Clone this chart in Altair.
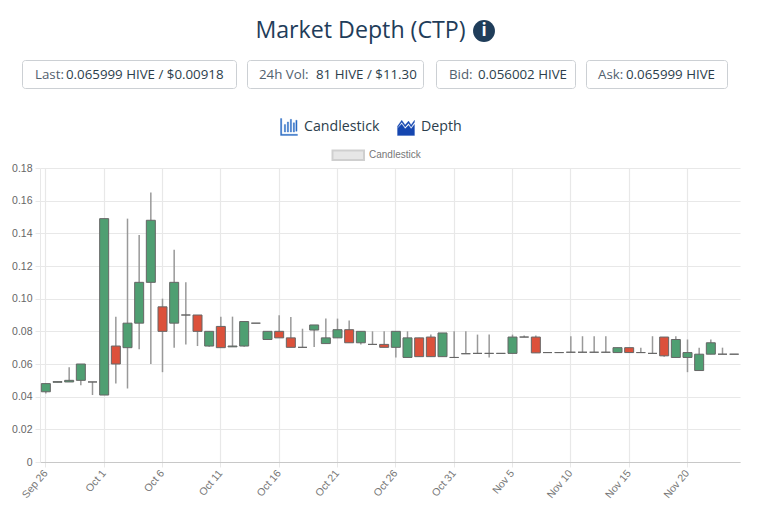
import altair as alt
import pandas as pd

dates = ["Sep 26","Sep 27","Sep 28","Sep 29","Sep 30","Oct 1","Oct 2","Oct 3","Oct 4","Oct 5",
         "Oct 6","Oct 7","Oct 8","Oct 9","Oct 10","Oct 11","Oct 12","Oct 13","Oct 14","Oct 15",
         "Oct 16","Oct 17","Oct 18","Oct 19","Oct 20","Oct 21","Oct 22","Oct 23","Oct 24","Oct 25",
         "Oct 26","Oct 27","Oct 28","Oct 29","Oct 30","Oct 31","Nov 1","Nov 2","Nov 3","Nov 4",
         "Nov 5","Nov 6","Nov 7","Nov 8","Nov 9","Nov 10","Nov 11","Nov 12","Nov 13","Nov 14",
         "Nov 15","Nov 16","Nov 17","Nov 18","Nov 19","Nov 20","Nov 21","Nov 22","Nov 23","Nov 24"]
opens = [.043,.0488,.049,.050,.049,.041,.071,.070,.085,.110,
         .095,.085,.090,.090,.071,.083,.0705,.071,.085,.075,
         .080,.076,.0702,.0808,.0725,.076,.081,.073,.072,.072,
         .0702,.064,.076,.0765,.0645,.064,.0663,.0665,.0665,.0665,
         .0665,.0765,.0765,.067,.067,.0672,.0672,.0672,.0672,.067,
         .070,.067,.0665,.0765,.064,.064,.056,.066,.066,.066]
closes = [.048,.0492,.050,.060,.049,.149,.060,.085,.110,.148,
          .080,.110,.090,.080,.080,.070,.071,.086,.085,.080,
          .076,.0702,.0702,.0839,.076,.081,.073,.080,.072,.0702,
          .080,.076,.0645,.0645,.079,.064,.0663,.0665,.0665,.0665,
          .0765,.0765,.0668,.067,.067,.0672,.0672,.0672,.0672,.070,
          .067,.067,.0665,.065,.075,.067,.066,.073,.066,.066]
lows = [.042,.0488,.049,.047,.041,.041,.048,.045,.069,.060,
        .055,.070,.072,.071,.0705,.070,.0705,.0705,.085,.075,
        .076,.0702,.0702,.0704,.0725,.076,.073,.072,.072,.0702,
        .064,.064,.0645,.0645,.0645,.064,.0663,.0665,.064,.0665,
        .0665,.0765,.0668,.067,.067,.0672,.0672,.0672,.0672,.067,
        .067,.067,.0665,.0645,.064,.055,.056,.066,.066,.066]
highs = [.048,.0492,.058,.060,.049,.149,.089,.149,.139,.165,
         .100,.130,.110,.090,.080,.089,.089,.086,.085,.080,
         .0898,.0888,.0816,.0839,.0878,.0878,.0867,.080,.080,.080,
         .080,.080,.076,.078,.079,.080,.080,.078,.078,.0665,
         .078,.0775,.0775,.067,.067,.077,.077,.077,.077,.070,
         .070,.070,.077,.0765,.077,.075,.070,.075,.070,.066]

tick_dates = dates[::5]
y_ticks = [0, .02, .04, .06, .08, .10, .12, .14, .16, .18]

df = pd.DataFrame({"date": dates, "open": opens, "close": closes, "low": lows, "high": highs})
df["dir"] = ["up" if c >= o else "down" for o, c in zip(opens, closes)]

X0, Y0 = 40, 168
one = alt.Data(values=[{}])

x_enc = alt.X("date:N", sort=dates, title=None,
              scale=alt.Scale(domain=dates, paddingInner=0, paddingOuter=0),
              axis=alt.Axis(values=tick_dates, labelAngle=-50, labelFont="Liberation Sans", labelFontSize=10.5,
                            labelColor="#777", grid=True, gridColor="#e8e8e8", tickColor="#e8e8e8",
                            domainColor="#c8c8c8", tickSize=5, labelPadding=4, labelOverlap=False))
y_axis = alt.Axis(values=y_ticks, tickCount=10, labelExpr="datum.value == 0 ? '0' : format(datum.value, '.2f')",
                  labelFont="Liberation Sans", labelFontSize=10.5, labelColor="#666",
                  gridColor="#e8e8e8", tickColor="#e8e8e8", domainColor="#e8e8e8", tickSize=5,
                  labelPadding=3, labelOverlap=False, labelFlush=False)
y_scale = alt.Scale(domain=[0, .18], nice=False)

wicks = alt.Chart(df).mark_rule(color="#999", size=1.5).encode(
    x=x_enc, y=alt.Y("low:Q", title=None, scale=y_scale, axis=y_axis), y2="high:Q")
bodies = alt.Chart(df).mark_bar(size=9, stroke="#666", strokeWidth=1).encode(
    x=x_enc, y=alt.Y("open:Q", title=None, scale=y_scale, axis=y_axis), y2="close:Q",
    color=alt.Color("dir:N", legend=None,
                    scale=alt.Scale(domain=["up", "down"], range=["#4f9f72", "#dc513b"])))


def text(x, y, s, size=13.3, color="#2c3e4c", align="left", font="Open Sans", weight="normal"):
    return alt.Chart(one).mark_text(align=align, baseline="middle", font=font, fontSize=size,
                                    color=color, fontWeight=weight).encode(
        x=alt.value(x - X0), y=alt.value(y - Y0), text=alt.value(s))


def box(x1, x2, y1, y2, fill="white", stroke="#ccd0d4", sw=1, r=3):
    return alt.Chart(one).mark_rect(fill=fill, stroke=stroke, strokeWidth=sw, cornerRadius=r).encode(
        x=alt.value(x1 - X0), x2=alt.value(x2 - X0), y=alt.value(y1 - Y0), y2=alt.value(y2 - Y0))


def icon(x, y, path, size, color):
    return alt.Chart(one).mark_point(shape=path, size=size, fill=color, filled=True, opacity=1,
                                     stroke=color, strokeWidth=0.3).encode(
        x=alt.value(x - X0), y=alt.value(y - Y0))


head = [
    text(360.5, 31, "Market Depth (CTP)", size=23.2, color="#1f3d5a", align="center"),
    alt.Chart(one).mark_point(shape="circle", size=480, filled=True, fill="#1f3d5a", opacity=1).encode(
        x=alt.value(484 - X0), y=alt.value(31 - Y0)),
    text(484, 31, "i", size=17, color="white", align="center", weight="bold"),
    box(22.5, 236.5, 60.5, 88.5), box(247.5, 423.5, 60.5, 88.5),
    box(436.5, 575.5, 60.5, 88.5), box(586.5, 727.5, 60.5, 88.5),
    text(35, 75, "Last:", color="#52616e"), text(66, 75, "0.065999 HIVE / $0.00918"),
    text(259, 75, "24h Vol:", color="#52616e"), text(316, 75, "81 HIVE / $11.30"),
    text(449, 75, "Bid:", color="#52616e"), text(478, 75, "0.056002 HIVE"),
    text(598, 75, "Ask:", color="#52616e"), text(626, 75, "0.065999 HIVE"),
    icon(289, 127, "M-1 -1H-.85V.85H1V1H-1Z M-.55 -.3H-.4V.6H-.55Z M-.2 -.6H-.05V.6H-.2Z M.15 -.9H.3V.6H.15Z M.5 -.5H.65V.6H.5Z M.8 -.8H.95V.5H.8Z", 289, "#2b6cc4"),
    text(304, 127, "Candlestick", size=14.2, color="#2c3e4c"),
    icon(406, 127, "M-1 1V.15L-.5 -.35L-.1 .2L.3 -.2L.6 .2L1 -.3V1Z M-1 -.1L-.5 -.8L-.1 -.25L.3 -.7L.6 -.25L1 -.8V-.55L.6 0L.3 -.45L-.1 0L-.5 -.55L-1 .1Z", 289, "#1546b0"),
    text(421, 127, "Depth", size=14.2, color="#2c3e4c"),
    box(332.5, 364, 150.5, 160, fill="#e6e6e6", stroke="#cfcfcf", sw=2, r=0),
    text(369, 155, "Candlestick", size=10, color="#777", font="Liberation Sans"),
]

chart = alt.layer(wicks, bodies, *head).properties(
    width=700, height=294,
    padding={"left": 32, "top": 160, "right": 20, "bottom": 43},
    autosize=alt.AutoSizeParams(type="none"),
).configure_view(stroke=None).configure_axis(gridWidth=1.2)

chart.save("out.html", embed_options={"renderer": "svg", "actions": False})
